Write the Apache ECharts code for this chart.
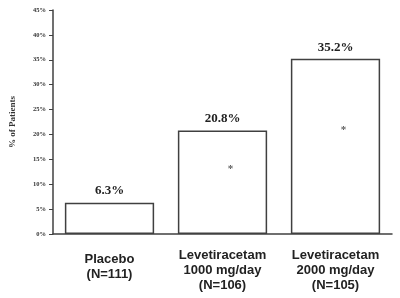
<!DOCTYPE html>
<html>
<head>
<meta charset="utf-8">
<script src="https://cdn.jsdelivr.net/npm/echarts@6/dist/echarts.min.js"></script>
<style>html,body{margin:0;padding:0;background:#fff;}#c{width:400px;height:298px;}</style>
</head>
<body>
<div id="c"></div>
<script>
var categories = ['Placebo\n(N=111)', 'Levetiracetam\n1000 mg/day\n(N=106)', 'Levetiracetam\n2000 mg/day\n(N=105)'];
var values = [6.3, 20.8, 35.2];
var asteriskValues = [null, 13.7, 21.5];
var yTicks = [0, 45, 5];
var yName = '% of Patients';

var chart = echarts.init(document.getElementById('c'));
var catData = categories.map(function (c, i) {
  return i === 0 ? { value: c, textStyle: { padding: [4, 0, 0, 0] } } : c;
});
chart.setOption({
  animation: false,
  backgroundColor: '#fff',
  grid: { left: 53, right: 8, top: 10, bottom: 64 },
  xAxis: {
    type: 'category',
    data: catData,
    axisLine: { lineStyle: { color: '#404040', width: 1.5 } },
    axisTick: { show: false },
    axisLabel: {
      color: '#222', fontFamily: 'Liberation Sans', fontWeight: 'bold',
      fontSize: 13, lineHeight: 15, margin: 14, interval: 0
    }
  },
  yAxis: {
    type: 'value',
    min: yTicks[0], max: yTicks[1], interval: yTicks[2],
    name: yName,
    nameLocation: 'middle',
    nameGap: 36,
    nameTextStyle: { color: '#333', fontFamily: 'Liberation Serif', fontWeight: 'bold', fontSize: 9 },
    axisLine: { show: true, lineStyle: { color: '#404040', width: 1.5 } },
    axisTick: { show: true, length: 4, lineStyle: { color: '#404040', width: 1 } },
    splitLine: { show: false },
    axisLabel: {
      formatter: '{value}%', color: '#333', fontFamily: 'Liberation Serif',
      fontWeight: 'bold', fontSize: 6.5, margin: 7
    }
  },
  series: [
    {
      type: 'bar',
      data: values,
      barWidth: '79%',
      itemStyle: { color: '#fff', borderColor: '#404040', borderWidth: 1.5 },
      label: {
        show: true, position: 'top', distance: 5,
        formatter: function (p) { return p.value.toFixed(1) + '%'; },
        color: '#222', fontFamily: 'Liberation Serif', fontWeight: 'bold', fontSize: 13
      }
    },
    {
      type: 'scatter',
      data: asteriskValues,
      symbolSize: 0,
      label: {
        show: true, position: 'inside', formatter: '*', offset: [8, 3],
        color: '#333', fontFamily: 'Liberation Serif', fontWeight: 'bold', fontSize: 11
      }
    }
  ]
});
</script>
</body>
</html>
